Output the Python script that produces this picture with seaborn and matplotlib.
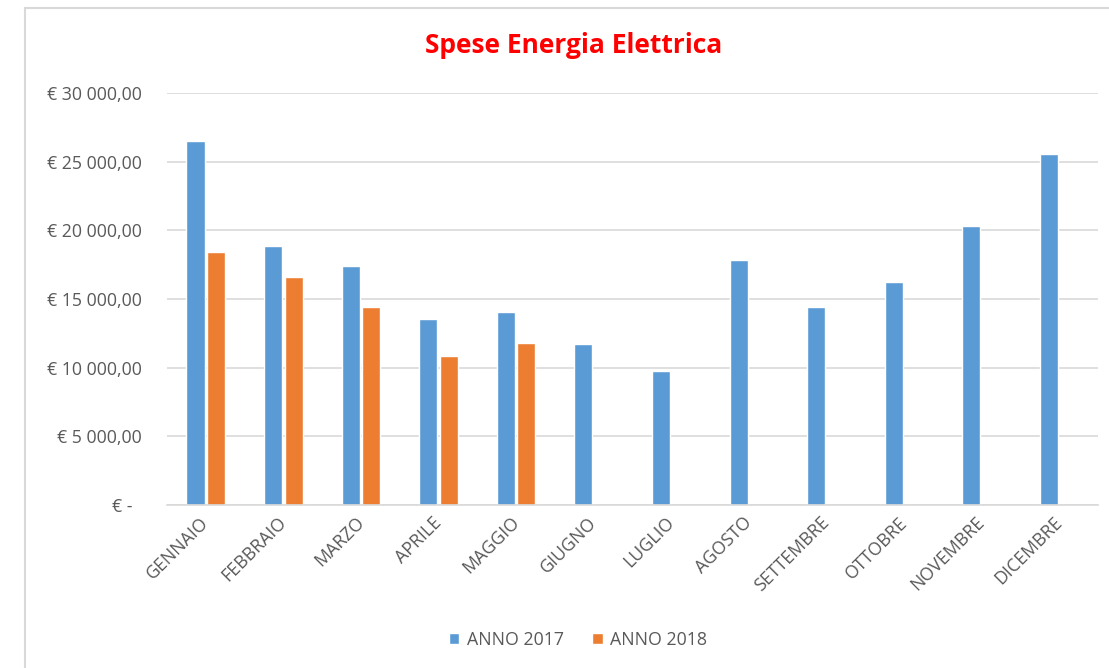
import numpy as np
import pandas as pd
import seaborn as sns
import matplotlib.pyplot as plt
import matplotlib.transforms as mtransforms
from matplotlib.patches import Rectangle
from matplotlib.ticker import FuncFormatter

mesi = ["GENNAIO", "FEBBRAIO", "MARZO", "APRILE", "MAGGIO", "GIUGNO",
        "LUGLIO", "AGOSTO", "SETTEMBRE", "OTTOBRE", "NOVEMBRE", "DICEMBRE"]
anno_2017 = [26500, 18850, 17400, 13550, 14050, 11730,
             9760, 17840, 14400, 16240, 20300, 25580]
anno_2018 = [18420, 16600, 14400, 10850, 11800, np.nan,
             np.nan, np.nan, np.nan, np.nan, np.nan, np.nan]
serie = ["ANNO 2017", "ANNO 2018"]
colori = ["#5B9BD5", "#ED7D31"]

df = pd.DataFrame({
    "mese": mesi * 2,
    "spesa": anno_2017 + anno_2018,
    "anno": [serie[0]] * len(mesi) + [serie[1]] * len(mesi),
})

sns.set_style("white")
plt.rcParams['font.family'] = ['Open Sans', 'DejaVu Sans']

fig = plt.figure(figsize=(11.09, 6.68), dpi=100)
ax = fig.add_axes([0.1506, 0.244, 0.8394, 0.617])

sns.barplot(data=df, x="mese", y="spesa", hue="anno", order=mesi,
            hue_order=serie, palette=colori, width=0.53, gap=0.12,
            saturation=1, ax=ax, legend=True)

ax.set_ylim(0, 30000)
ax.set_xlim(-0.5, len(mesi) - 0.5)
ax.set_yticks(range(0, 30001, 5000))


def euro(v, pos):
    if v == 0:
        return "€ -  "
    return "€ " + f"{v:,.2f}".replace(",", " ").replace(".", ",")


ax.yaxis.set_major_formatter(FuncFormatter(euro))
ax.grid(axis="y", color="#d9d9d9", linewidth=1.2)
ax.set_axisbelow(True)
for s in ["left", "right", "top"]:
    ax.spines[s].set_visible(False)
ax.spines["bottom"].set_color("#d9d9d9")
ax.spines["bottom"].set_linewidth(1.2)
ax.tick_params(axis="both", length=0, colors="#595959", labelsize=12.8)
ax.tick_params(axis="y", pad=18)
ax.tick_params(axis="x", pad=6)
shift = mtransforms.ScaledTranslation(-6 / 100, 0, fig.dpi_scale_trans)
for lab in ax.get_xticklabels():
    lab.set_rotation(45)
    lab.set_ha("right")
    lab.set_rotation_mode("anchor")
    lab.set_transform(lab.get_transform() + shift)
ax.set_xlabel("")
ax.set_ylabel("")

handles, labels = ax.get_legend_handles_labels()
ax.legend_.remove()
fig.legend(handles, labels, loc="center", bbox_to_anchor=(0.521, 0.042),
           ncol=2, frameon=False, fontsize=12.8, handlelength=0.6,
           handleheight=0.6, columnspacing=1.6, handletextpad=0.4,
           labelcolor="#595959")

fig.text(0.517, 0.932, "Spese Energia Elettrica", color="#FF0000",
         fontsize=19, fontweight="bold", ha="center", va="center")

fig.patches.append(Rectangle((25 / 1109, -0.05), 1.2, 1 - 8 / 668 + 0.05,
                             transform=fig.transFigure, fill=False,
                             edgecolor="#d9d9d9", linewidth=1.5))

fig.savefig("out.png", dpi=100, facecolor="white")
